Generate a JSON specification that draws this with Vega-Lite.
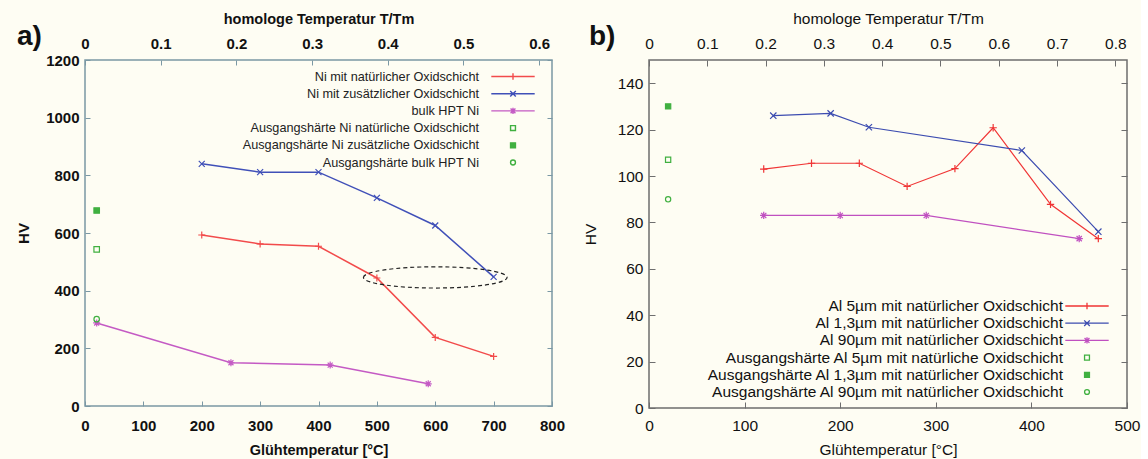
{
  "$schema": "https://vega.github.io/schema/vega-lite/v6.json",
  "background": "#fefdf3",
  "padding": {"left": 15, "top": 10, "right": 0, "bottom": 0},
  "config": {
    "font": "Liberation Sans",
    "view": {"fill": null},
    "axis": {"grid": false, "domain": false, "labelFlush": false, "labelOverlap": false, "labelColor": "#111", "titleColor": "#111"},
    "legend": {"labelFont": "Liberation Sans"}
  },
  "datasets": {
    "ni": [
      {"serie": "Ni mit natürlicher Oxidschicht", "typ": "linie", "temp": 200, "hv": 593},
      {"serie": "Ni mit natürlicher Oxidschicht", "typ": "linie", "temp": 300, "hv": 562},
      {"serie": "Ni mit natürlicher Oxidschicht", "typ": "linie", "temp": 400, "hv": 554},
      {"serie": "Ni mit natürlicher Oxidschicht", "typ": "linie", "temp": 500, "hv": 444},
      {"serie": "Ni mit natürlicher Oxidschicht", "typ": "linie", "temp": 600, "hv": 238},
      {"serie": "Ni mit natürlicher Oxidschicht", "typ": "linie", "temp": 700, "hv": 172},
      {"serie": "Ni mit zusätzlicher Oxidschicht", "typ": "linie", "temp": 200, "hv": 840},
      {"serie": "Ni mit zusätzlicher Oxidschicht", "typ": "linie", "temp": 300, "hv": 811},
      {"serie": "Ni mit zusätzlicher Oxidschicht", "typ": "linie", "temp": 400, "hv": 811},
      {"serie": "Ni mit zusätzlicher Oxidschicht", "typ": "linie", "temp": 500, "hv": 722},
      {"serie": "Ni mit zusätzlicher Oxidschicht", "typ": "linie", "temp": 600, "hv": 626},
      {"serie": "Ni mit zusätzlicher Oxidschicht", "typ": "linie", "temp": 700, "hv": 448},
      {"serie": "bulk HPT Ni", "typ": "linie", "temp": 20, "hv": 288},
      {"serie": "bulk HPT Ni", "typ": "linie", "temp": 250, "hv": 150},
      {"serie": "bulk HPT Ni", "typ": "linie", "temp": 420, "hv": 142},
      {"serie": "bulk HPT Ni", "typ": "linie", "temp": 588, "hv": 77},
      {"serie": "Ausgangshärte Ni natürliche Oxidschicht", "typ": "start", "temp": 20, "hv": 543},
      {"serie": "Ausgangshärte Ni zusätzliche Oxidschicht", "typ": "start", "temp": 20, "hv": 678},
      {"serie": "Ausgangshärte bulk HPT Ni", "typ": "start", "temp": 20, "hv": 301}
    ],
    "al": [
      {"serie": "Al 5µm mit natürlicher Oxidschicht", "typ": "linie", "temp": 120, "hv": 103},
      {"serie": "Al 5µm mit natürlicher Oxidschicht", "typ": "linie", "temp": 170, "hv": 105.5},
      {"serie": "Al 5µm mit natürlicher Oxidschicht", "typ": "linie", "temp": 220, "hv": 105.5},
      {"serie": "Al 5µm mit natürlicher Oxidschicht", "typ": "linie", "temp": 270, "hv": 95.5},
      {"serie": "Al 5µm mit natürlicher Oxidschicht", "typ": "linie", "temp": 320, "hv": 103.2},
      {"serie": "Al 5µm mit natürlicher Oxidschicht", "typ": "linie", "temp": 360, "hv": 120.8},
      {"serie": "Al 5µm mit natürlicher Oxidschicht", "typ": "linie", "temp": 420, "hv": 87.8},
      {"serie": "Al 5µm mit natürlicher Oxidschicht", "typ": "linie", "temp": 470, "hv": 73},
      {"serie": "Al 1,3µm mit natürlicher Oxidschicht", "typ": "linie", "temp": 130, "hv": 126},
      {"serie": "Al 1,3µm mit natürlicher Oxidschicht", "typ": "linie", "temp": 190, "hv": 127},
      {"serie": "Al 1,3µm mit natürlicher Oxidschicht", "typ": "linie", "temp": 230, "hv": 121},
      {"serie": "Al 1,3µm mit natürlicher Oxidschicht", "typ": "linie", "temp": 390, "hv": 111},
      {"serie": "Al 1,3µm mit natürlicher Oxidschicht", "typ": "linie", "temp": 470, "hv": 76},
      {"serie": "Al 90µm mit natürlicher Oxidschicht", "typ": "linie", "temp": 120, "hv": 83},
      {"serie": "Al 90µm mit natürlicher Oxidschicht", "typ": "linie", "temp": 200, "hv": 83},
      {"serie": "Al 90µm mit natürlicher Oxidschicht", "typ": "linie", "temp": 290, "hv": 83},
      {"serie": "Al 90µm mit natürlicher Oxidschicht", "typ": "linie", "temp": 450, "hv": 73},
      {"serie": "Ausgangshärte Al 5µm mit natürliche Oxidschicht", "typ": "start", "temp": 20, "hv": 107},
      {"serie": "Ausgangshärte Al 1,3µm mit natürlicher Oxidschicht", "typ": "start", "temp": 20, "hv": 130},
      {"serie": "Ausgangshärte Al 90µm mit natürlicher Oxidschicht", "typ": "start", "temp": 20, "hv": 90}
    ],
    "ell": [{"temp": 600, "hv": 446}],
    "axa": [{"h": 0, "v": 0}]
  },
  "bounds": "flush",
  "spacing": 97,
  "resolve": {"scale": {"color": "independent"}, "legend": {"color": "independent"}},
  "hconcat": [
    {
      "width": 467,
      "height": 346,
      "title": {"text": "a)", "anchor": "start", "frame": "group", "fontSize": 28, "fontWeight": "bold", "color": "#111", "dx": -68, "dy": 40, "offset": 0},
      "view": {"stroke": "#7b98a4", "strokeWidth": 1.5},
      "resolve": {"scale": {"x": "independent", "y": "independent"}, "axis": {"x": "independent", "y": "independent"}},
      "layer": [
        {
          "data": {"name": "ni"},
          "encoding": {
            "x": {"field": "temp", "type": "quantitative", "scale": {"domain": [0, 800], "nice": false},
              "axis": {"orient": "bottom", "values": [0, 100, 200, 300, 400, 500, 600, 700, 800], "title": "Glühtemperatur [°C]", "tickSize": -5, "tickColor": "#7b98a4", "labelPadding": 17, "labelFontSize": 15, "labelFontWeight": "bold", "titleFontSize": 14.5, "titleFontWeight": "bold", "titlePadding": 10}},
            "y": {"field": "hv", "type": "quantitative", "scale": {"domain": [0, 1200], "nice": false},
              "axis": {"orient": "left", "values": [0, 200, 400, 600, 800, 1000, 1200], "format": "d", "title": "HV", "tickSize": -5, "tickColor": "#7b98a4", "labelPadding": 11, "labelFontSize": 15, "labelFontWeight": "bold", "titleFontSize": 15, "titleFontWeight": "bold", "titlePadding": 14}},
            "color": {
              "field": "serie", "type": "nominal",
              "scale": {
                "domain": ["Ni mit natürlicher Oxidschicht", "Ni mit zusätzlicher Oxidschicht", "bulk HPT Ni", "Ausgangshärte Ni natürliche Oxidschicht", "Ausgangshärte Ni zusätzliche Oxidschicht", "Ausgangshärte bulk HPT Ni"],
                "range": ["#f24b4b", "#4050b8", "#c45ac4", "#40b040", "#40b040", "#40b040"]
              }
            }
          },
          "layer": [
            {
              "transform": [{"filter": "datum.typ === 'linie'"}],
              "mark": {"type": "line", "strokeWidth": 1.5}
            },
            {
              "transform": [{"filter": "datum.serie === 'Ni mit natürlicher Oxidschicht'"}],
              "mark": {"type": "point", "filled": false, "size": 100, "strokeWidth": 1.2, "opacity": 1, "shape": "M-0.7,0L0.7,0M0,-0.7L0,0.7"},
              "encoding": {
                "color": {
                  "field": "serie", "type": "nominal",
                  "legend": {
                    "orient": "none", "legendX": 420, "legendY": 8.5, "title": null, "padding": 0,
                    "labelAlign": "right", "labelOffset": -42, "labelFontSize": 12.7, "labelColor": "#222", "labelLimit": 400,
                    "symbolSize": 196, "symbolStrokeWidth": 1.5, "rowPadding": 2.2, "symbolOffset": 0,
                    "encoding": {
                      "symbols": {
                        "shape": {"value": {"expr": "datum.value === 'Ni mit natürlicher Oxidschicht' ? 'M-3.1,0L3.1,0M0,-0.45L0,0.45' : datum.value === 'Ni mit zusätzlicher Oxidschicht' ? 'M-3.1,0L3.1,0M-0.4,-0.4L0.4,0.4M-0.4,0.4L0.4,-0.4' : datum.value === 'bulk HPT Ni' ? 'M-3.1,0L3.1,0M0,-0.45L0,0.45M-0.35,-0.35L0.35,0.35M-0.35,0.35L0.35,-0.35' : datum.value === 'Ausgangshärte bulk HPT Ni' ? 'M-0.35,0C-0.35,-0.1933,-0.1933,-0.35,0,-0.35C0.1933,-0.35,0.35,-0.1933,0.35,0C0.35,0.1933,0.1933,0.35,0,0.35C-0.1933,0.35,-0.35,0.1933,-0.35,0Z' : 'M-0.35,-0.35L0.35,-0.35L0.35,0.35L-0.35,0.35Z'"}},
                        "fill": {"value": {"expr": "datum.value === 'Ausgangshärte Ni zusätzliche Oxidschicht' ? '#40b040' : 'transparent'"}},
                        "strokeWidth": {"value": 1.4},
                        "opacity": {"value": 1}
                      }
                    }
                  }
                }
              }
            },
            {
              "transform": [{"filter": "datum.serie === 'Ni mit zusätzlicher Oxidschicht'"}],
              "mark": {"type": "point", "filled": false, "size": 100, "strokeWidth": 1.2, "opacity": 1, "shape": "M-0.6,-0.6L0.6,0.6M-0.6,0.6L0.6,-0.6"}
            },
            {
              "transform": [{"filter": "datum.serie === 'bulk HPT Ni'"}],
              "mark": {"type": "point", "filled": false, "size": 100, "strokeWidth": 1.2, "opacity": 1, "shape": "M-0.7,0L0.7,0M0,-0.7L0,0.7M-0.5,-0.5L0.5,0.5M-0.5,0.5L0.5,-0.5"}
            },
            {
              "transform": [{"filter": "datum.serie === 'Ausgangshärte Ni natürliche Oxidschicht' || datum.serie === 'Ausgangshärte Ni zusätzliche Oxidschicht'"}],
              "mark": {"type": "point", "filled": false, "size": 100, "strokeWidth": 1.2, "opacity": 1, "shape": "M-0.55,-0.55L0.55,-0.55L0.55,0.55L-0.55,0.55Z"},
              "encoding": {
                "fill": {"condition": {"test": "datum.serie === 'Ausgangshärte Ni zusätzliche Oxidschicht'", "value": "#40b040"}, "value": "transparent"}
              }
            },
            {
              "transform": [{"filter": "datum.serie === 'Ausgangshärte bulk HPT Ni'"}],
              "mark": {"type": "point", "filled": false, "size": 100, "strokeWidth": 1.2, "opacity": 1, "shape": "M-0.55,0C-0.55,-0.3038,-0.3038,-0.55,0,-0.55C0.3038,-0.55,0.55,-0.3038,0.55,0C0.55,0.3038,0.3038,0.55,0,0.55C-0.3038,0.55,-0.55,0.3038,-0.55,0Z"}
            },
            {
              "data": {"name": "ell"},
              "mark": {"type": "point", "shape": "M-1,0C-1,-0.0817,-0.5523,-0.148,0,-0.148C0.5523,-0.148,1,-0.0817,1,0C1,0.0817,0.5523,0.148,0,0.148C-0.5523,0.148,-1,0.0817,-1,0Z", "size": 20621, "filled": false, "stroke": "#222", "strokeDash": [4, 3], "strokeWidth": 1.2, "opacity": 1},
              "encoding": {
                "x": {"field": "temp", "type": "quantitative"},
                "y": {"field": "hv", "type": "quantitative"},
                "color": {"value": "#222"}
              }
            }
          ]
        },
        {
          "data": {"name": "axa"},
          "mark": {"type": "point", "opacity": 0},
          "encoding": {
            "x": {"field": "h", "type": "quantitative", "scale": {"domain": [0, 0.617], "nice": false, "zero": false},
              "axis": {"orient": "top", "values": [0, 0.1, 0.2, 0.3, 0.4, 0.5, 0.6], "format": ".1~f", "title": "homologe Temperatur T/Tm", "tickSize": -5, "tickColor": "#7b98a4", "labelPadding": 14, "labelFontSize": 15, "labelFontWeight": "bold", "titleFontSize": 14.5, "titleFontWeight": "bold", "titlePadding": 10}},
            "y": {"field": "v", "type": "quantitative", "scale": {"domain": [0, 1200], "nice": false},
              "axis": {"orient": "right", "values": [0, 200, 400, 600, 800, 1000, 1200], "labels": false, "title": null, "tickSize": -5, "tickColor": "#7b98a4"}}
          }
        }
      ]
    },
    {
      "width": 478,
      "height": 348,
      "title": {"text": "b)", "anchor": "start", "frame": "group", "fontSize": 28, "fontWeight": "bold", "color": "#111", "dx": -60, "dy": 40, "offset": 0},
      "view": {"stroke": "#6e6e6e", "strokeWidth": 1.5},
      "resolve": {"scale": {"x": "independent", "y": "independent"}, "axis": {"x": "independent", "y": "independent"}},
      "layer": [
        {
          "data": {"name": "al"},
          "encoding": {
            "x": {"field": "temp", "type": "quantitative", "scale": {"domain": [0, 500], "nice": false},
              "axis": {"orient": "bottom", "values": [0, 100, 200, 300, 400, 500], "title": "Glühtemperatur [°C]", "tickSize": -6, "tickColor": "#6e6e6e", "labelPadding": 16, "labelFontSize": 15.5, "titleFontSize": 15.5, "titleFontWeight": "normal", "titlePadding": 9}},
            "y": {"field": "hv", "type": "quantitative", "scale": {"domain": [0, 150], "nice": false},
              "axis": {"orient": "left", "values": [0, 20, 40, 60, 80, 100, 120, 140], "title": "HV", "tickSize": -6, "tickColor": "#6e6e6e", "labelPadding": 12, "labelFontSize": 15.5, "titleFontSize": 15.5, "titleFontWeight": "normal", "titlePadding": 19}},
            "color": {
              "field": "serie", "type": "nominal",
              "scale": {
                "domain": ["Al 5µm mit natürlicher Oxidschicht", "Al 1,3µm mit natürlicher Oxidschicht", "Al 90µm mit natürlicher Oxidschicht", "Ausgangshärte Al 5µm mit natürliche Oxidschicht", "Ausgangshärte Al 1,3µm mit natürlicher Oxidschicht", "Ausgangshärte Al 90µm mit natürlicher Oxidschicht"],
                "range": ["#f03535", "#3c4cb0", "#c050c0", "#40b040", "#40b040", "#40b040"]
              }
            }
          },
          "layer": [
            {
              "transform": [{"filter": "datum.typ === 'linie'"}],
              "mark": {"type": "line", "strokeWidth": 1.2}
            },
            {
              "transform": [{"filter": "datum.serie === 'Al 5µm mit natürlicher Oxidschicht'"}],
              "mark": {"type": "point", "filled": false, "size": 110, "strokeWidth": 1.2, "opacity": 1, "shape": "M-0.7,0L0.7,0M0,-0.7L0,0.7"},
              "encoding": {
                "color": {
                  "field": "serie", "type": "nominal",
                  "legend": {
                    "orient": "none", "legendX": 430, "legendY": 238, "title": null, "padding": 0,
                    "labelAlign": "right", "labelOffset": -32, "labelFontSize": 15.5, "labelColor": "#111", "labelLimit": 500,
                    "symbolSize": 196, "symbolStrokeWidth": 1.5, "rowPadding": 0.2, "symbolOffset": 0,
                    "encoding": {
                      "symbols": {
                        "shape": {"value": {"expr": "datum.value === 'Al 5µm mit natürlicher Oxidschicht' ? 'M-3.1,0L3.1,0M0,-0.45L0,0.45' : datum.value === 'Al 1,3µm mit natürlicher Oxidschicht' ? 'M-3.1,0L3.1,0M-0.4,-0.4L0.4,0.4M-0.4,0.4L0.4,-0.4' : datum.value === 'Al 90µm mit natürlicher Oxidschicht' ? 'M-3.1,0L3.1,0M0,-0.45L0,0.45M-0.35,-0.35L0.35,0.35M-0.35,0.35L0.35,-0.35' : datum.value === 'Ausgangshärte Al 90µm mit natürlicher Oxidschicht' ? 'M-0.35,0C-0.35,-0.1933,-0.1933,-0.35,0,-0.35C0.1933,-0.35,0.35,-0.1933,0.35,0C0.35,0.1933,0.1933,0.35,0,0.35C-0.1933,0.35,-0.35,0.1933,-0.35,0Z' : 'M-0.35,-0.35L0.35,-0.35L0.35,0.35L-0.35,0.35Z'"}},
                        "fill": {"value": {"expr": "datum.value === 'Ausgangshärte Al 1,3µm mit natürlicher Oxidschicht' ? '#40b040' : 'transparent'"}},
                        "strokeWidth": {"value": 1.3},
                        "opacity": {"value": 1}
                      }
                    }
                  }
                }
              }
            },
            {
              "transform": [{"filter": "datum.serie === 'Al 1,3µm mit natürlicher Oxidschicht'"}],
              "mark": {"type": "point", "filled": false, "size": 110, "strokeWidth": 1.2, "opacity": 1, "shape": "M-0.6,-0.6L0.6,0.6M-0.6,0.6L0.6,-0.6"}
            },
            {
              "transform": [{"filter": "datum.serie === 'Al 90µm mit natürlicher Oxidschicht'"}],
              "mark": {"type": "point", "filled": false, "size": 110, "strokeWidth": 1.2, "opacity": 1, "shape": "M-0.7,0L0.7,0M0,-0.7L0,0.7M-0.5,-0.5L0.5,0.5M-0.5,0.5L0.5,-0.5"}
            },
            {
              "transform": [{"filter": "datum.serie === 'Ausgangshärte Al 5µm mit natürliche Oxidschicht' || datum.serie === 'Ausgangshärte Al 1,3µm mit natürlicher Oxidschicht'"}],
              "mark": {"type": "point", "filled": false, "size": 110, "strokeWidth": 1.2, "opacity": 1, "shape": "M-0.5,-0.5L0.5,-0.5L0.5,0.5L-0.5,0.5Z"},
              "encoding": {
                "fill": {"condition": {"test": "datum.serie === 'Ausgangshärte Al 1,3µm mit natürlicher Oxidschicht'", "value": "#40b040"}, "value": "transparent"}
              }
            },
            {
              "transform": [{"filter": "datum.serie === 'Ausgangshärte Al 90µm mit natürlicher Oxidschicht'"}],
              "mark": {"type": "point", "filled": false, "size": 110, "strokeWidth": 1.2, "opacity": 1, "shape": "M-0.5,0C-0.5,-0.2762,-0.2762,-0.5,0,-0.5C0.2762,-0.5,0.5,-0.2762,0.5,0C0.5,0.2762,0.2762,0.5,0,0.5C-0.2762,0.5,-0.5,0.2762,-0.5,0Z"}
            }
          ]
        },
        {
          "data": {"name": "axa"},
          "mark": {"type": "point", "opacity": 0},
          "encoding": {
            "x": {"field": "h", "type": "quantitative", "scale": {"domain": [0, 0.82], "nice": false, "zero": false},
              "axis": {"orient": "top", "values": [0, 0.1, 0.2, 0.3, 0.4, 0.5, 0.6, 0.7, 0.8], "format": ".1~f", "title": "homologe Temperatur T/Tm", "tickSize": -6, "tickColor": "#6e6e6e", "labelPadding": 15, "labelFontSize": 15.5, "titleFontSize": 15.5, "titleFontWeight": "normal", "titlePadding": 10}},
            "y": {"field": "v", "type": "quantitative", "scale": {"domain": [0, 150], "nice": false},
              "axis": {"orient": "right", "values": [0, 20, 40, 60, 80, 100, 120, 140], "labels": false, "title": null, "tickSize": -6, "tickColor": "#6e6e6e"}}
          }
        }
      ]
    }
  ]
}
